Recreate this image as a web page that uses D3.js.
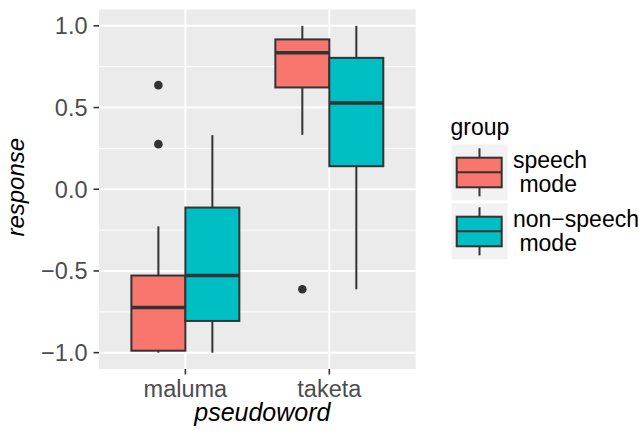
<!DOCTYPE html>
<html><head><meta charset="utf-8">
<script src="https://cdn.jsdelivr.net/npm/d3@7"></script>
<style>
body{margin:0;background:#fff;}
text{font-family:"Liberation Sans",Arial,Helvetica,sans-serif;white-space:pre;}
</style></head>
<body><svg id="chart" width="639" height="431"></svg>
<script>
const categories = ["maluma", "taketa"];
const groups = ["speech\n mode", "non\u2212speech\n mode"];
const groupColors = ["#F8766D", "#00BFC4"];
// [lower whisker, q1, median, q3, upper whisker] per category
const speechStats = [[-1.0, -0.988, -0.723, -0.528, -0.227], [0.333, 0.623, 0.835, 0.917, 1.0]];
const nonSpeechStats = [[-1.0, -0.806, -0.528, -0.112, 0.331], [-0.612, 0.141, 0.528, 0.804, 1.0]];
const speechOutliers = [[0.637, 0.276], [-0.612]];
const nonSpeechOutliers = [[], []];
const yTicks = [-1.0, -0.5, 0.0, 0.5, 1.0];
const yMinor = [-0.75, -0.25, 0.25, 0.75];
const yTickLabels = ["\u22121.0", "\u22120.5", "0.0", "0.5", "1.0"];

const svg = d3.select("#chart");
const P = {left: 99, right: 415.7, top: 9.5, bottom: 369};

const x = d3.scalePoint().domain(categories).range([P.left, P.right]).padding(0.6);
const step = x.step();
const xg = d3.scaleBand().domain(groups).range([-0.375 * step, 0.375 * step]);
const y = d3.scaleLinear().domain([-1.1, 1.1]).range([P.bottom, P.top]);
const color = d3.scaleOrdinal().domain(groups).range(groupColors);

svg.append("rect").attr("x", P.left).attr("y", P.top)
  .attr("width", P.right - P.left).attr("height", P.bottom - P.top).attr("fill", "#EBEBEB");

const grid = svg.append("g");
grid.selectAll(".minor").data(yMinor).join("line")
  .attr("x1", P.left).attr("x2", P.right).attr("y1", d => y(d)).attr("y2", d => y(d))
  .attr("stroke", "#fff").attr("stroke-width", 1);
grid.selectAll(".major").data(yTicks).join("line")
  .attr("x1", P.left).attr("x2", P.right).attr("y1", d => y(d)).attr("y2", d => y(d))
  .attr("stroke", "#fff").attr("stroke-width", 2);
grid.selectAll(".vmajor").data(categories).join("line")
  .attr("y1", P.top).attr("y2", P.bottom).attr("x1", d => x(d)).attr("x2", d => x(d))
  .attr("stroke", "#fff").attr("stroke-width", 2);

// boxes
const boxes = [];
categories.forEach((c, i) => {
  boxes.push({cat: c, grp: groups[0], s: speechStats[i], out: speechOutliers[i]});
  boxes.push({cat: c, grp: groups[1], s: nonSpeechStats[i], out: nonSpeechOutliers[i]});
});
const bg = svg.append("g");
boxes.forEach(b => {
  const x0 = x(b.cat) + xg(b.grp), w = xg.bandwidth(), cx = x0 + w / 2;
  const g = bg.append("g");
  g.append("line").attr("x1", cx).attr("x2", cx).attr("y1", y(b.s[4])).attr("y2", y(b.s[3]))
    .attr("stroke", "#333").attr("stroke-width", 2);
  g.append("line").attr("x1", cx).attr("x2", cx).attr("y1", y(b.s[1])).attr("y2", y(b.s[0]))
    .attr("stroke", "#333").attr("stroke-width", 2);
  g.append("rect").attr("x", x0).attr("width", w).attr("y", y(b.s[3])).attr("height", y(b.s[1]) - y(b.s[3]))
    .attr("fill", color(b.grp)).attr("stroke", "#333").attr("stroke-width", 2);
  g.append("line").attr("x1", x0).attr("x2", x0 + w).attr("y1", y(b.s[2])).attr("y2", y(b.s[2]))
    .attr("stroke", "#333").attr("stroke-width", 3.5);
  g.selectAll("circle").data(b.out).join("circle")
    .attr("cx", cx).attr("cy", d => y(d)).attr("r", 4.3).attr("fill", "#333");
});

// axes
const yAxis = svg.append("g");
yAxis.selectAll("line").data(yTicks).join("line")
  .attr("x1", P.left - 5.5).attr("x2", P.left).attr("y1", d => y(d)).attr("y2", d => y(d))
  .attr("stroke", "#333").attr("stroke-width", 1.6);
yAxis.selectAll("text").data(yTicks).join("text")
  .attr("x", P.left - 11.5).attr("y", d => y(d)).attr("dy", "0.36em")
  .attr("text-anchor", "end").attr("font-size", 23.5).attr("fill", "#4D4D4D")
  .text((d, i) => yTickLabels[i]);
const xAxis = svg.append("g");
xAxis.selectAll("line").data(categories).join("line")
  .attr("x1", d => x(d)).attr("x2", d => x(d)).attr("y1", P.bottom).attr("y2", P.bottom + 5.5)
  .attr("stroke", "#333").attr("stroke-width", 1.6);
xAxis.selectAll("text").data(categories).join("text")
  .attr("x", d => x(d)).attr("y", 397).attr("text-anchor", "middle")
  .attr("font-size", 23.5).attr("fill", "#4D4D4D").text(d => d);

svg.append("text").attr("x", (P.left + P.right) / 2 + 5).attr("y", 421).attr("text-anchor", "middle")
  .attr("font-size", 25).attr("font-style", "italic").attr("fill", "#000").text("pseudoword");
svg.append("text").attr("transform", `translate(24,${(P.top + P.bottom) / 2 - 2}) rotate(-90)`)
  .attr("text-anchor", "middle").attr("font-size", 24).attr("font-style", "italic")
  .attr("fill", "#000").text("response");

// legend
const leg = svg.append("g");
leg.append("text").attr("x", 450.5).attr("y", 135).attr("font-size", 23).attr("fill", "#000").text("group");
groups.forEach((gname, i) => {
  const ky = 144.3 + i * 59;
  const k = leg.append("g");
  k.append("rect").attr("x", 451.7).attr("y", ky).attr("width", 56).attr("height", 56).attr("fill", "#F2F2F2");
  const cx = 479.5;
  k.append("line").attr("x1", cx).attr("x2", cx).attr("y1", ky + 4).attr("y2", ky + 52)
    .attr("stroke", "#333").attr("stroke-width", 2);
  k.append("rect").attr("x", 456.7).attr("y", ky + 13.4).attr("width", 45).attr("height", 29.6)
    .attr("fill", color(gname)).attr("stroke", "#333").attr("stroke-width", 2);
  k.append("line").attr("x1", 456.7).attr("x2", 501.7).attr("y1", ky + 28).attr("y2", ky + 28)
    .attr("stroke", "#333").attr("stroke-width", 2);
  const lines = gname.split("\n");
  const t = k.append("text").attr("font-size", 23).attr("fill", "#000");
  lines.forEach((ln, j) => {
    t.append("tspan").attr("x", 513).attr("y", ky + 24 + j * 24).text(ln);
  });
});
</script></body></html>
